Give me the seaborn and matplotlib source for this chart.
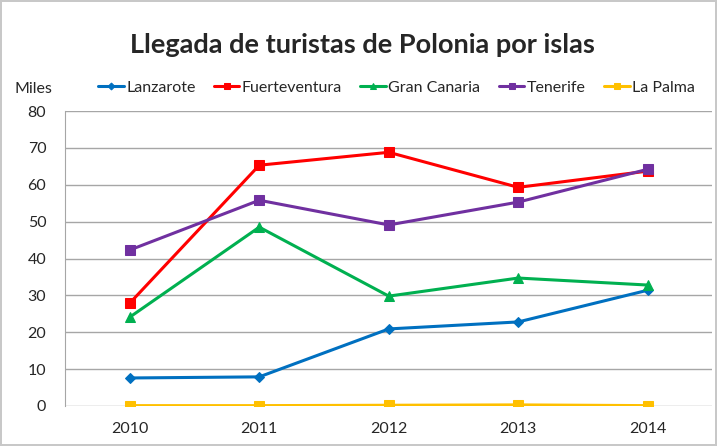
import pandas as pd
import matplotlib.pyplot as plt
import seaborn as sns

# Data (miles de turistas)
years = ["2010", "2011", "2012", "2013", "2014"]
islands = ["Lanzarote", "Fuerteventura", "Gran Canaria", "Tenerife", "La Palma"]
lanzarote = [7.6, 7.9, 20.9, 22.8, 31.4]
fuerteventura = [27.9, 65.3, 68.8, 59.3, 63.7]
gran_canaria = [24.1, 48.5, 29.8, 34.7, 32.8]
tenerife = [42.3, 55.8, 49.1, 55.3, 64.2]
la_palma = [0.1, 0.1, 0.2, 0.3, 0.1]

colors = {"Lanzarote": "#0070C0", "Fuerteventura": "#FF0000", "Gran Canaria": "#00B050",
          "Tenerife": "#7030A0", "La Palma": "#FFC000"}
markers = {"Lanzarote": "D", "Fuerteventura": "s", "Gran Canaria": "^",
           "Tenerife": "s", "La Palma": "s"}
sizes = {"Lanzarote": 5, "Fuerteventura": 7, "Gran Canaria": 6.5, "Tenerife": 7, "La Palma": 7}

series = [lanzarote, fuerteventura, gran_canaria, tenerife, la_palma]
rows = []
for name, vals in zip(islands, series):
    for i, v in enumerate(vals):
        rows.append({"pos": i, "island": name, "value": v})
df = pd.DataFrame(rows)

sns.set_style("white")
plt.rcParams["font.family"] = ["Lato", "DejaVu Sans"]

fig = plt.figure(figsize=(7.17, 4.46), dpi=100, linewidth=1.5, edgecolor="#c8c8c8")
ax = fig.add_axes([0.0907, 0.0897, 0.903, 0.6614])

for name in islands:
    sub = df[df["island"] == name]
    sns.lineplot(data=sub, x="pos", y="value", ax=ax, color=colors[name], marker=markers[name],
                 markersize=sizes[name], markeredgecolor=colors[name], linewidth=2.2, label=name)

ax.set_xlim(-0.5, 4.5)
ax.set_ylim(0, 80)
ax.set_xticks(range(len(years)))
ax.set_xticklabels(years, fontsize=11.5)
ax.set_yticks(range(0, 81, 10))
ax.tick_params(axis="y", labelsize=11.5, pad=10)
ax.tick_params(axis="x", pad=8)
ax.yaxis.grid(True, color="#a6a6a6", linewidth=1)
ax.set_axisbelow(True)
for s in ["top", "right", "bottom"]:
    ax.spines[s].set_visible(False)
ax.spines["left"].set_color("#a6a6a6")
ax.set_xlabel("")
ax.set_ylabel("")

fig.text(0.046, 0.80, "Miles", fontsize=11.5, ha="center", va="center")
fig.text(0.505, 0.9, "Llegada de turistas de Polonia por islas", fontsize=19.5,
         fontweight="bold", ha="center", va="center")
ax.legend(loc="center", bbox_to_anchor=(0.512, 1.08), ncol=5, frameon=False, fontsize=11.5,
          handlelength=1.6, handletextpad=0.15, columnspacing=1.15, borderaxespad=0,
          markerscale=0.7)

fig.savefig("out.png", dpi=100)
